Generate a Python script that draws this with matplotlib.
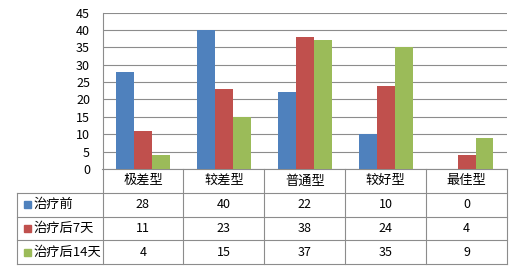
import matplotlib
matplotlib.use("Agg")
import matplotlib.pyplot as plt
import numpy as np

plt.rcParams['font.family'] = ['Noto Sans CJK SC', 'DejaVu Sans']

categories = ["极差型", "较差型", "普通型", "较好型", "最佳型"]
series_names = ["治疗前", "治疗后7天", "治疗后14天"]
before = [28, 40, 22, 10, 0]
after_7 = [11, 23, 38, 24, 4]
after_14 = [4, 15, 37, 35, 9]
yticks = list(range(0, 50, 5))

colors = ["#4F81BD", "#C0504D", "#9BBB59"]
grid_color = "#8C8C8C"
W, H = 520, 270

fig = plt.figure(figsize=(5.2, 2.7), dpi=100)

# pixel layout of the plot area and the data table
px_left, px_right = 102.5, 507
px_top, px_zero, px_bottom = 12.5, 169, 264
px_table_left = 17

ax = fig.add_axes([px_left / W, (H - px_zero) / H,
                   (px_right - px_left) / W, (px_zero - px_top) / H])
x = np.arange(len(categories))
bw = 0.222
for i, vals in enumerate([before, after_7, after_14]):
    ax.bar(x + (i - 1) * bw, vals, bw, color=colors[i], zorder=3)

ax.set_xlim(-0.5, len(categories) - 0.5)
ax.set_ylim(0, 45)
ax.set_yticks(yticks)
ax.set_xticks([])
ax.yaxis.grid(True, color=grid_color, linewidth=0.8, zorder=0)
ax.tick_params(axis="y", length=0, pad=9, labelsize=9, colors="black")
for s in ["top", "right"]:
    ax.spines[s].set_visible(False)
for s in ["left", "bottom"]:
    ax.spines[s].set_color(grid_color)
    ax.spines[s].set_linewidth(0.8)

# data table below the chart
cat_px = (px_right - px_left) / len(categories)
label_w = (px_left - px_table_left) / cat_px
tx = fig.add_axes([px_table_left / W, (H - px_bottom) / H,
                   (px_right - px_table_left) / W, (px_bottom - px_zero) / H])
x0 = -0.5 - label_w
tx.set_xlim(x0, len(categories) - 0.5)
tx.set_ylim(0, 4)
tx.axis("off")

lw = 0.8
for y in [0, 1, 2, 3]:
    tx.plot([x0, len(categories) - 0.5], [y, y], color=grid_color, lw=lw, clip_on=False)
tx.plot([x0, x0], [0, 3], color=grid_color, lw=lw, clip_on=False)
for k in range(len(categories) + 1):
    tx.plot([k - 0.5, k - 0.5], [0, 4], color=grid_color, lw=lw, clip_on=False)

for j, c in enumerate(categories):
    tx.text(j, 3.5, c, ha="center", va="center", fontsize=9.5)

rows = [before, after_7, after_14]
sq_w = 7 / cat_px
for i, (name, vals) in enumerate(zip(series_names, rows)):
    yc = 2.5 - i
    tx.add_patch(plt.Rectangle((x0 + 7 / cat_px, yc - 0.15), sq_w, 0.3,
                               color=colors[i], clip_on=False))
    tx.text(x0 + 16 / cat_px, yc, name, ha="left", va="center", fontsize=9.5)
    for j, v in enumerate(vals):
        tx.text(j, yc, str(v), ha="center", va="center", fontsize=9)

fig.savefig("out.png", dpi=100)
